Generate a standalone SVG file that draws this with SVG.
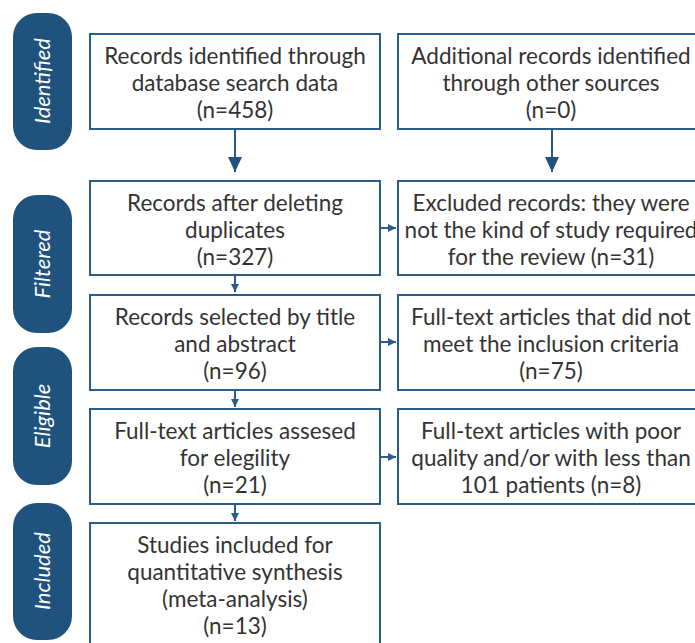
<svg xmlns="http://www.w3.org/2000/svg" width="695" height="643" viewBox="0 0 695 643">
<style>
.pill{fill:#1f527c}
.pt{font-family:Lato,"Open Sans",sans-serif;font-style:italic;font-size:22px;fill:#ffffff;text-anchor:middle}
.box{fill:#ffffff;stroke:#2a5b89;stroke-width:2}
.t{font-family:Lato,"Liberation Sans",sans-serif;font-size:22.5px;fill:#333333;text-anchor:middle}
.c{stroke:#2a5b89;stroke-width:2;fill:none}
</style>
<defs>
<marker id="big" markerWidth="16" markerHeight="14" refX="15" refY="7" orient="auto" markerUnits="userSpaceOnUse" viewBox="0 0 16 14">
<path d="M0,0 L15,7 L0,14 Z" fill="#1f527c"/>
</marker>
<marker id="sm" markerWidth="8" markerHeight="8" refX="8" refY="4" orient="auto" markerUnits="userSpaceOnUse" viewBox="0 0 8 8">
<path d="M0,0 L8,4 L0,8 Z" fill="#2a5b89"/>
</marker>
</defs>
<rect width="695" height="643" fill="#ffffff"/>
<g id="stage-identified"><rect class="pill" x="13" y="13" width="59" height="137" rx="24"/><text class="pt" transform="translate(50,81) rotate(-90)">Identified</text></g>
<g id="stage-filtered"><rect class="pill" x="13" y="195" width="59" height="138" rx="24"/><text class="pt" transform="translate(50,264) rotate(-90)">Filtered</text></g>
<g id="stage-eligible"><rect class="pill" x="13" y="347" width="59" height="138" rx="24"/><text class="pt" transform="translate(50,416) rotate(-90)">Eligible</text></g>
<g id="stage-included"><rect class="pill" x="13" y="503" width="59" height="137" rx="24"/><text class="pt" transform="translate(50,571) rotate(-90)">Included</text></g>

<g id="connectors">
<path class="c" d="M235,129 V172" marker-end="url(#big)"/>
<path class="c" d="M552,129 V172" marker-end="url(#big)"/>
<path class="c" d="M235,275 V292" marker-end="url(#sm)"/>
<path class="c" d="M235,390 V407" marker-end="url(#sm)"/>
<path class="c" d="M235,504 V521" marker-end="url(#sm)"/>
<path class="c" d="M380,228 H396" marker-end="url(#sm)"/>
<path class="c" d="M380,342 H396" marker-end="url(#sm)"/>
<path class="c" d="M380,457 H396" marker-end="url(#sm)"/>
</g>

<g id="n1"><rect class="box" x="90" y="34" width="290" height="95"/>
<text class="t" x="235" y="64">Records identified through</text><text class="t" x="235" y="91">database search data</text><text class="t" x="235" y="118">(n=458)</text></g>
<g id="n2"><rect class="box" x="398" y="34" width="308" height="95"/>
<text class="t" x="551" y="64">Additional records identified</text><text class="t" x="551" y="91">through other sources</text><text class="t" x="551" y="118">(n=0)</text></g>
<g id="n3"><rect class="box" x="90" y="181" width="290" height="94"/>
<text class="t" x="235" y="211">Records after deleting</text><text class="t" x="235" y="238">duplicates</text><text class="t" x="235" y="265">(n=327)</text></g>
<g id="n4"><rect class="box" x="398" y="181" width="308" height="94"/>
<text class="t" x="551" y="211">Excluded records: they were</text><text class="t" x="551" y="238">not the kind of study required</text><text class="t" x="551" y="265">for the review (n=31)</text></g>
<g id="n5"><rect class="box" x="90" y="295" width="290" height="95"/>
<text class="t" x="235" y="325">Records selected by title</text><text class="t" x="235" y="352">and abstract</text><text class="t" x="235" y="379">(n=96)</text></g>
<g id="n6"><rect class="box" x="398" y="295" width="308" height="95"/>
<text class="t" x="551" y="325">Full-text articles that did not</text><text class="t" x="551" y="352">meet the inclusion criteria</text><text class="t" x="551" y="379">(n=75)</text></g>
<g id="n7"><rect class="box" x="90" y="409" width="290" height="95"/>
<text class="t" x="235" y="439">Full-text articles assesed</text><text class="t" x="235" y="466">for elegility</text><text class="t" x="235" y="493">(n=21)</text></g>
<g id="n8"><rect class="box" x="398" y="409" width="308" height="95"/>
<text class="t" x="551" y="439">Full-text articles with poor</text><text class="t" x="551" y="466">quality and/or with less than</text><text class="t" x="551" y="493">101 patients (n=8)</text></g>
<g id="n9"><rect class="box" x="90" y="523" width="290" height="130"/>
<text class="t" x="235" y="553">Studies included for</text><text class="t" x="235" y="580">quantitative synthesis</text><text class="t" x="235" y="607">(meta-analysis)</text><text class="t" x="235" y="634">(n=13)</text></g>
</svg>
